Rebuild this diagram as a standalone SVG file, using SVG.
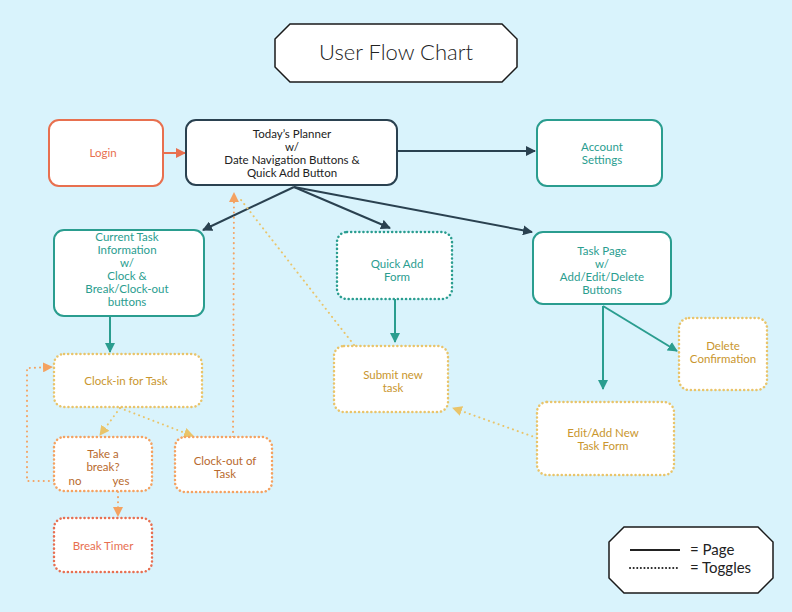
<svg xmlns="http://www.w3.org/2000/svg" width="792" height="612" viewBox="0 0 792 612">
<style>
text{font-family:Lato,"Open Sans",sans-serif;font-size:11.5px;text-anchor:middle}
.b{fill:#fff;stroke-width:2}
.d{stroke-dasharray:0.1 4;stroke-linecap:round;stroke-width:2.5}
.l{fill:none;stroke-width:2}
.ld{fill:none;stroke-width:2;stroke-dasharray:0.1 5;stroke-linecap:round}
</style>
<defs>
<marker id="md" viewBox="0 0 10 10" refX="9" refY="5" markerWidth="5" markerHeight="5" orient="auto"><path d="M0,0L10,5L0,10z" fill="#2a4150"/></marker>
<marker id="mt" viewBox="0 0 10 10" refX="9" refY="5" markerWidth="5" markerHeight="5" orient="auto"><path d="M0,0L10,5L0,10z" fill="#2a9d8f"/></marker>
<marker id="mo" viewBox="0 0 10 10" refX="9" refY="5" markerWidth="5" markerHeight="5" orient="auto"><path d="M0,0L10,5L0,10z" fill="#e8704f"/></marker>
<marker id="my" viewBox="0 0 10 10" refX="9" refY="5" markerWidth="5" markerHeight="5" orient="auto"><path d="M0,0L10,5L0,10z" fill="#e9c46a"/></marker>
<marker id="ma" viewBox="0 0 10 10" refX="9" refY="5" markerWidth="5" markerHeight="5" orient="auto"><path d="M0,0L10,5L0,10z" fill="#f4a261"/></marker>
</defs>
<rect width="792" height="612" fill="#d9f3fc"/>
<g id="title"><path d="M290,24H502L517,39V67L502,82H290L275,67V39Z" fill="#fff" stroke="#1a1a1a" stroke-width="1.5"/><text x="396" y="60" style="font-size:22px;font-weight:300" fill="#222">User Flow Chart</text></g>
<g id="connectors">
<line class="l" stroke="#e8704f" x1="163" y1="153" x2="185" y2="153" marker-end="url(#mo)"/>
<line class="l" stroke="#2a4150" x1="397" y1="151" x2="535" y2="151" marker-end="url(#md)"/>
<line class="l" stroke="#2a4150" x1="294" y1="187" x2="203" y2="230" marker-end="url(#md)"/>
<line class="l" stroke="#2a4150" x1="294" y1="187" x2="390" y2="228" marker-end="url(#md)"/>
<line class="l" stroke="#2a4150" x1="294" y1="187" x2="532" y2="232" marker-end="url(#md)"/>
<line class="l" stroke="#2a9d8f" x1="110" y1="316" x2="110" y2="352" marker-end="url(#mt)"/>
<line class="l" stroke="#2a9d8f" x1="395" y1="299" x2="395" y2="342" marker-end="url(#mt)"/>
<line class="l" stroke="#2a9d8f" x1="603" y1="306" x2="603" y2="389" marker-end="url(#mt)"/>
<line class="l" stroke="#2a9d8f" x1="603" y1="306" x2="677" y2="351" marker-end="url(#mt)"/>
<line class="ld" stroke="#e9c46a" x1="120" y1="408" x2="100" y2="435" marker-end="url(#my)"/>
<line class="ld" stroke="#e9c46a" x1="120" y1="408" x2="193" y2="436" marker-end="url(#my)"/>
<polyline class="ld" stroke="#f4a261" points="54,481 27,481 27,368 52,367" marker-end="url(#ma)"/>
<line class="ld" stroke="#f4a261" x1="118" y1="492" x2="118" y2="516" marker-end="url(#ma)"/>
<line class="ld" stroke="#f4a261" x1="233" y1="437" x2="234" y2="193" marker-end="url(#ma)"/>
<line class="ld" stroke="#e9c46a" x1="354" y1="345" x2="241" y2="200"/>
<line class="ld" stroke="#e9c46a" x1="537" y1="438" x2="453" y2="408" marker-end="url(#my)"/>
</g>
<g id="login"><rect class="b" x="49" y="120" width="114" height="66" rx="10" stroke="#e8704f"/><text x="103" y="157" fill="#e8704f">Login</text></g>
<g id="planner"><rect class="b" x="186" y="120" width="211" height="65" rx="10" stroke="#2a4150"/><text fill="#222"><tspan x="292" y="138">Today’s Planner</tspan><tspan x="292" y="151">w/</tspan><tspan x="292" y="164">Date Navigation Buttons &amp;</tspan><tspan x="292" y="177">Quick Add Button</tspan></text></g>
<g id="account"><rect class="b" x="537" y="120" width="125" height="66" rx="10" stroke="#2a9d8f"/><text fill="#2a9d8f"><tspan x="602" y="151">Account</tspan><tspan x="602" y="164">Settings</tspan></text></g>
<g id="current"><rect class="b" x="54" y="230" width="150" height="86" rx="10" stroke="#2a9d8f"/><text fill="#2a9d8f"><tspan x="127" y="241">Current Task</tspan><tspan x="127" y="254">Information</tspan><tspan x="127" y="267">w/</tspan><tspan x="127" y="280">Clock &amp;</tspan><tspan x="127" y="293">Break/Clock-out</tspan><tspan x="127" y="306">buttons</tspan></text></g>
<g id="quickadd"><rect class="b d" x="337" y="232" width="115" height="67" rx="10" stroke="#2a9d8f"/><text fill="#2a9d8f"><tspan x="397" y="268">Quick Add</tspan><tspan x="397" y="281">Form</tspan></text></g>
<g id="taskpage"><rect class="b" x="533" y="232" width="138" height="72" rx="10" stroke="#2a9d8f"/><text fill="#2a9d8f"><tspan x="602" y="255">Task Page</tspan><tspan x="602" y="268">w/</tspan><tspan x="602" y="281">Add/Edit/Delete</tspan><tspan x="602" y="294">Buttons</tspan></text></g>
<g id="clockin"><rect class="b d" x="54" y="354" width="148" height="53" rx="10" stroke="#e9c46a"/><text x="126" y="385" fill="#c9962e">Clock-in for Task</text></g>
<g id="submit"><rect class="b d" x="334" y="346" width="114" height="66" rx="10" stroke="#e9c46a"/><text fill="#c9962e"><tspan x="393" y="379">Submit new</tspan><tspan x="393" y="392">task</tspan></text></g>
<g id="delete"><rect class="b d" x="679" y="318" width="88" height="72" rx="10" stroke="#e9c46a"/><text fill="#c9962e"><tspan x="723" y="350">Delete</tspan><tspan x="723" y="363">Confirmation</tspan></text></g>
<g id="edit"><rect class="b d" x="537" y="402" width="137" height="73" rx="10" stroke="#e9c46a"/><text fill="#c9962e"><tspan x="603" y="437">Edit/Add New</tspan><tspan x="603" y="450">Task Form</tspan></text></g>
<g id="takebreak"><rect class="b d" x="54" y="437" width="98" height="54" rx="10" stroke="#f4a261"/><text fill="#b86a2e"><tspan x="103" y="458">Take a</tspan><tspan x="103" y="471">break?</tspan><tspan x="75" y="485">no</tspan><tspan x="121" y="485">yes</tspan></text></g>
<g id="clockout"><rect class="b d" x="175" y="437" width="97" height="55" rx="10" stroke="#f4a261"/><text fill="#b86a2e"><tspan x="225" y="465">Clock-out of</tspan><tspan x="225" y="478">Task</tspan></text></g>
<g id="breaktimer"><rect class="b d" x="54" y="518" width="98" height="54" rx="10" stroke="#e76f51"/><text x="103" y="550" fill="#e76f51">Break Timer</text></g>
<g id="legend"><path d="M624,527H758L773,542V578L758,593H624L609,578V542Z" fill="#fff" stroke="#1a1a1a" stroke-width="1.5"/>
<line x1="630" y1="550" x2="680" y2="550" stroke="#222" stroke-width="2"/>
<line x1="630" y1="568" x2="680" y2="568" stroke="#222" stroke-width="2" stroke-dasharray="0.1 3.5" stroke-linecap="round"/>
<text x="690" y="555" style="text-anchor:start;font-size:15px" fill="#222">= Page</text>
<text x="690" y="573" style="text-anchor:start;font-size:15px" fill="#222">= Toggles</text></g>
</svg>
